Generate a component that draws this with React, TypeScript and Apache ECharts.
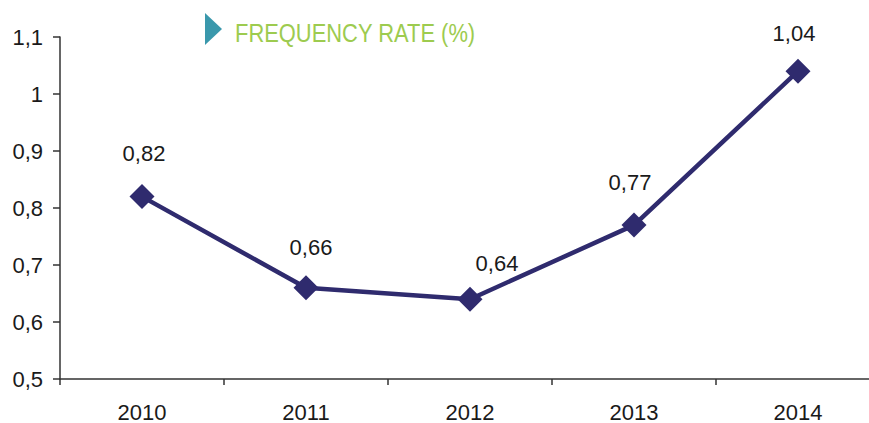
import React, { useEffect, useRef } from "react";
import * as echarts from "echarts";

const categories = ["2010", "2011", "2012", "2013", "2014"];
const frequencyRate = [0.82, 0.66, 0.64, 0.77, 1.04];
const yTicks = { min: 0.5, max: 1.1, interval: 0.1 };
const titleText = "FREQUENCY RATE (%)";

const labelOffsets = [
  [2, -43],
  [5, -40],
  [27, -36],
  [-4, -43],
  [-4, -38],
];

const fmt = (v: number) => String(Math.round(v * 100) / 100).replace(".", ",");

export default function App() {
  const ref = useRef<HTMLDivElement>(null);
  useEffect(() => {
    if (!ref.current) return;
    const chart = echarts.init(ref.current, null, { renderer: "svg" });
    const font = "'Liberation Sans', Arial, sans-serif";
    chart.setOption({
      animation: false,
      backgroundColor: "#ffffff",
      grid: { left: 60, top: 37, bottom: 44, right: 0, containLabel: false },
      xAxis: {
        type: "category",
        data: categories,
        boundaryGap: true,
        axisLine: { lineStyle: { color: "#333333", width: 1.5 } },
        axisTick: { show: true, length: 6, alignWithLabel: false, lineStyle: { color: "#333333", width: 1.5 } },
        axisLabel: { color: "#1a1a1a", fontSize: 22, fontFamily: font, margin: 22 },
        splitLine: { show: false },
      },
      yAxis: {
        type: "value",
        min: yTicks.min,
        max: yTicks.max,
        interval: yTicks.interval,
        axisLine: { show: true, lineStyle: { color: "#333333", width: 1.5 } },
        axisTick: { show: true, length: 7, lineStyle: { color: "#333333", width: 1.5 } },
        axisLabel: {
          color: "#1a1a1a",
          fontSize: 22,
          fontFamily: font,
          margin: 17,
          formatter: (v: number) => String(Math.round(v * 10) / 10).replace(".", ","),
        },
        splitLine: { show: false },
      },
      series: [
        {
          type: "line",
          data: frequencyRate.map((v, i) => ({
            value: v,
            label: { offset: labelOffsets[i] },
          })),
          symbol: "diamond",
          symbolSize: 25,
          lineStyle: { color: "#2f2b6e", width: 4.5 },
          itemStyle: { color: "#2f2b6e" },
          label: {
            show: true,
            position: "inside",
            color: "#1a1a1a",
            fontSize: 22,
            fontFamily: font,
            formatter: (p: any) => fmt(p.value),
          },
        },
      ],
      graphic: [
        {
          type: "polygon",
          shape: { points: [[205, 13], [222, 29], [205, 45]] },
          style: { fill: "#3a98ac" },
        },
        {
          type: "text",
          x: 235,
          y: 33,
          scaleX: 0.843,
          style: {
            text: titleText,
            fill: "#9dcb4f",
            font: "26px 'Liberation Sans', Arial, sans-serif",
            verticalAlign: "middle",
            textAlign: "left",
          },
        },
      ],
    });
    return () => chart.dispose();
  }, []);
  return (
    <div style={{ position: "fixed", left: 0, top: 0, width: 869, height: 423, overflow: "hidden", background: "#fff" }}>
      <div ref={ref} style={{ width: 880, height: 423 }} />
    </div>
  );
}
